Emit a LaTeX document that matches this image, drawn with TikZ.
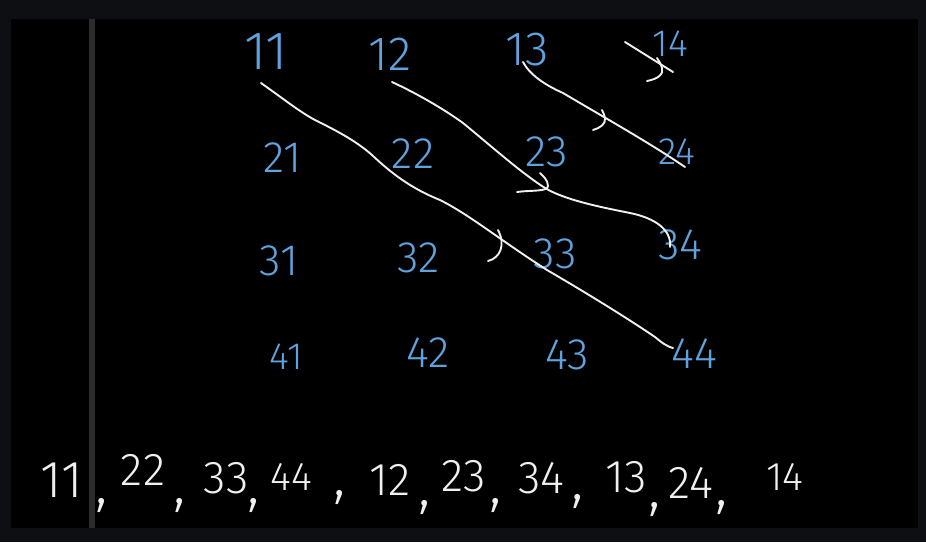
\documentclass[tikz,border=0pt]{standalone}
\usepackage{fontspec}
\newfontfamily\hand{Fira Sans Light}
\definecolor{frame}{HTML}{0E0F13}
\definecolor{rule}{HTML}{2B2B2B}
\definecolor{ink}{HTML}{5FA2DE}
\definecolor{chalk}{HTML}{F0F0F0}
\begin{document}
\begin{tikzpicture}[x=1pt,y=-1pt,
  cell/.style={text=ink,font=\hand\fontsize{44}{44}\selectfont,inner sep=0pt},
  seq/.style={text=chalk,font=\hand\fontsize{46}{46}\selectfont,inner sep=0pt},
  comma/.style={text=chalk,font=\hand\fontsize{60}{60}\selectfont,inner sep=0pt},
  stroke/.style={draw=chalk,line width=1.9pt,line cap=round,line join=round}]
\useasboundingbox (0,0) rectangle (926,542);
\fill[frame] (0,0) rectangle (926,542);
\fill[black] (11,19) rectangle (918,528);
\fill[rule] (89,19) rectangle (95,528);
% matrix
\node[cell,font=\hand\fontsize{54}{54}\selectfont] (n11) at (266,52) {11};
\node[cell,font=\hand\fontsize{48}{48}\selectfont] (n12) at (390,54) {12};
\node[cell,font=\hand\fontsize{48}{48}\selectfont] (n13) at (527,50) {13};
\node[cell,font=\hand\fontsize{38}{38}\selectfont] (n14) at (670,44) {14};
\node[cell] (n21) at (283,158) {21};
\node[cell] (n22) at (413,154) {22};
\node[cell] (n23) at (547,152) {23};
\node[cell,font=\hand\fontsize{38}{38}\selectfont] (n24) at (677,152) {24};
\node[cell] (n31) at (279,261) {31};
\node[cell] (n32) at (419,258) {32};
\node[cell] (n33) at (555,254) {33};
\node[cell] (n34) at (680,245) {34};
\node[cell,font=\hand\fontsize{38}{38}\selectfont] (n41) at (286,357) {41};
\node[cell] (n42) at (428,353) {42};
\node[cell] (n43) at (567,355) {43};
\node[cell] (n44) at (694,354) {44};
% diagonals
\coordinate (a1) at (261,83);
\coordinate (a2) at (673,348);
\draw[stroke] (a1) .. controls (285,100) and (300,112) .. (315,120)
  .. controls (335,130) and (355,140) .. (372,155)
  .. controls (390,172) and (410,188) .. (440,200)
  .. controls (470,215) and (500,240) .. (547,270)
  .. controls (590,295) and (630,320) .. (655,337)
  .. controls (662,343) and (668,347) .. (a2);
\draw[stroke] (488,261) .. controls (500,258) and (506,245) .. (498,230);
\coordinate (b1) at (392,82);
\coordinate (b2) at (670,247);
\draw[stroke] (b1) .. controls (420,95) and (445,110) .. (463,123)
  .. controls (490,145) and (520,172) .. (545,188)
  .. controls (565,200) and (600,207) .. (630,213)
  .. controls (655,218) and (672,230) .. (b2);
\draw[stroke] (517,192) .. controls (530,190) and (548,192) .. (548,186)
  .. controls (548,180) and (543,176) .. (540,173);
\coordinate (c1) at (523,62);
\coordinate (c2) at (685,167);
\draw[stroke] (c1) .. controls (530,75) and (545,85) .. (563,93)
  .. controls (600,115) and (650,143) .. (c2);
\draw[stroke] (593,130) .. controls (600,128) and (606,124) .. (605,118)
  .. controls (604,114) and (603,112) .. (602,110);
\coordinate (d1) at (625,42);
\coordinate (d2) at (673,72);
\draw[stroke] (d1) -- (d2);
\draw[stroke] (647,81) .. controls (658,79) and (664,74) .. (662,68)
  .. controls (661,64) and (659,61) .. (657,58);
% sequence
\node[seq,font=\hand\fontsize{52}{52}\selectfont] (s1) at (62,480) {11};
\node[comma] (k1) at (102,505) {,};
\node[seq] (s2) at (143,470) {22};
\node[comma] (k2) at (180,505) {,};
\node[seq] (s3) at (226,478) {33};
\node[comma] (k3) at (254,505) {,};
\node[seq,font=\hand\fontsize{40}{40}\selectfont] (s4) at (291,477) {44};
\node[comma] (k4) at (340,497) {,};
\node[seq] (s5) at (390,480) {12};
\node[comma] (k5) at (425,507) {,};
\node[seq] (s6) at (464,476) {23};
\node[comma] (k6) at (496,505) {,};
\node[seq] (s7) at (541,478) {34};
\node[comma] (k7) at (578,501) {,};
\node[seq] (s8) at (626,477) {13};
\node[comma] (k8) at (655,509) {,};
\node[seq] (s9) at (691,483) {24};
\node[comma] (k9) at (722,507) {,};
\node[seq,font=\hand\fontsize{40}{40}\selectfont] (s10) at (785,477) {14};
\end{tikzpicture}
\end{document}
